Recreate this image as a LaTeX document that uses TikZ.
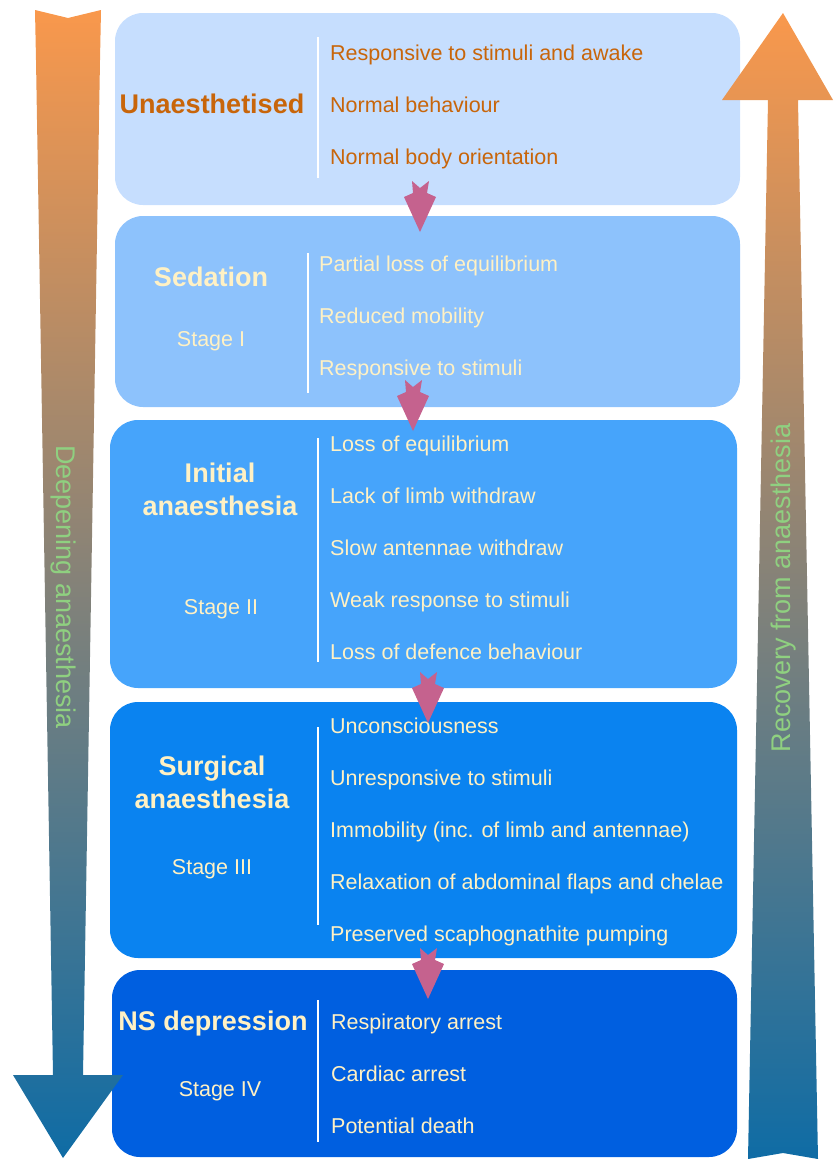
\documentclass[tikz,border=0pt]{standalone}
\usepackage{fontspec}
\setmainfont{Liberation Sans}
\definecolor{boxA}{HTML}{C6DEFE}
\definecolor{boxB}{HTML}{8DC2FC}
\definecolor{boxC}{HTML}{46A4FB}
\definecolor{boxD}{HTML}{0A83F0}
\definecolor{boxE}{HTML}{005FE0}
\definecolor{txtorange}{HTML}{C8650A}
\definecolor{txtcream}{HTML}{FFF1C4}
\definecolor{txtgreen}{HTML}{8FD080}
\definecolor{dartpink}{HTML}{C5628E}
\definecolor{arrtop}{HTML}{F9984C}
\definecolor{arrmid}{HTML}{968078}
\definecolor{arrbot}{HTML}{0F6CA5}
\newcommand{\dart}[2]{\fill[dartpink] (#1,#2) ++(-8,0) -- ++(8,7) -- ++(9,-7) -- ++(-2,12) -- ++(9,4) -- ++(-16,35) -- ++(-16,-35) -- ++(9,-4) -- cycle;}
\begin{document}
\begin{tikzpicture}[x=1pt,y=-1pt,line join=round,
  stagebox/.style={rounded corners=28pt,inner sep=0pt},
  title/.style={text=txtcream,align=center,font=\bfseries\fontsize{27}{33}\selectfont},
  stagetxt/.style={text=txtcream,font=\fontsize{21.5}{26}\selectfont},
  item/.style={anchor=west,inner sep=0pt,text height=15pt,text depth=4pt,text=txtcream,font=\fontsize{21.5}{26}\selectfont},
  divider/.style={white,line width=1.3pt},
  bigarrow/.style={top color=arrtop,middle color=arrmid,bottom color=arrbot},
  sidetxt/.style={text=txtgreen,font=\fontsize{27}{32}\selectfont}]
\useasboundingbox (0,0) rectangle (833,1159);

% stages
\node[stagebox,fill=boxA,minimum width=625pt,minimum height=192pt] (unaes) at (427.5,109) {};
\node[stagebox,fill=boxB,minimum width=625pt,minimum height=191pt] (sed) at (427.5,311.5) {};
\node[stagebox,fill=boxC,minimum width=627pt,minimum height=268pt] (init) at (423.5,554) {};
\node[stagebox,fill=boxD,minimum width=627pt,minimum height=256pt] (surg) at (423.5,830) {};
\node[stagebox,fill=boxE,minimum width=625pt,minimum height=187pt] (ns) at (424.5,1063.5) {};

\draw[divider] (318,37)--(318,178);
\draw[divider] (308,253)--(308,393);
\draw[divider] (318,438)--(318,662);
\draw[divider] (318,727)--(318,925);
\draw[divider] (318,1000)--(318,1142);

% titles
\node[title,text=txtorange] (unaesT) at (212,104) {Unaesthetised};
\node[title] (sedT) at (211,277) {Sedation};
\node[stagetxt] (sedS) at (211,341) {Stage I};
\node[title] (initT) at (220,489) {Initial\\anaesthesia};
\node[stagetxt] (initS) at (221,609) {Stage II};
\node[title] (surgT) at (212,782) {Surgical\\anaesthesia};
\node[stagetxt] (surgS) at (212,869) {Stage III};
\node[title] (nsT) at (213,1024) {NS depression};
\node[stagetxt] (nsS) at (220,1091) {Stage IV};

% signs
\foreach \t [count=\i] in {Responsive to stimuli and awake,Normal behaviour,Normal body orientation}
  \node[item,text=txtorange] (unaes\i) at (330,{3+52*\i}) {\t};
\foreach \t [count=\i] in {Partial loss of equilibrium,Reduced mobility,Responsive to stimuli}
  \node[item] (sed\i) at (319,{214+52*\i}) {\t};
\foreach \t [count=\i] in {Loss of equilibrium,Lack of limb withdraw,Slow antennae withdraw,Weak response to stimuli,Loss of defence behaviour}
  \node[item] (init\i) at (330,{394+52*\i}) {\t};
\foreach \t [count=\i] in {Unconsciousness,Unresponsive to stimuli,Immobility (inc. of limb and antennae),Relaxation of abdominal flaps and chelae,Preserved scaphognathite pumping}
  \node[item] (surg\i) at (330,{676+52*\i}) {\t};
\foreach \t [count=\i] in {Respiratory arrest,Cardiac arrest,Potential death}
  \node[item] (ns\i) at (331,{972+52*\i}) {\t};

% darts between stages
\dart{420}{181}
\dart{413}{380}
\dart{428}{672}
\dart{428}{948}

% deepening / recovery
\shade[bigarrow] (35,10)--(68,18)--(101,10)--(100,60)--(83,1075)--(123,1075)--(63,1158)--(13,1075)--(53,1075)--(36,60)--cycle;
\shade[bigarrow] (783,13)--(833,100)--(798,100)--(818,1159)--(783,1153)--(748,1159)--(768,100)--(722,100)--cycle;
\node[sidetxt,rotate=-90] (deep) at (63,587) {Deepening anaesthesia};
\node[sidetxt,rotate=90] (recov) at (784,588) {Recovery from anaesthesia};

\end{tikzpicture}
\end{document}
